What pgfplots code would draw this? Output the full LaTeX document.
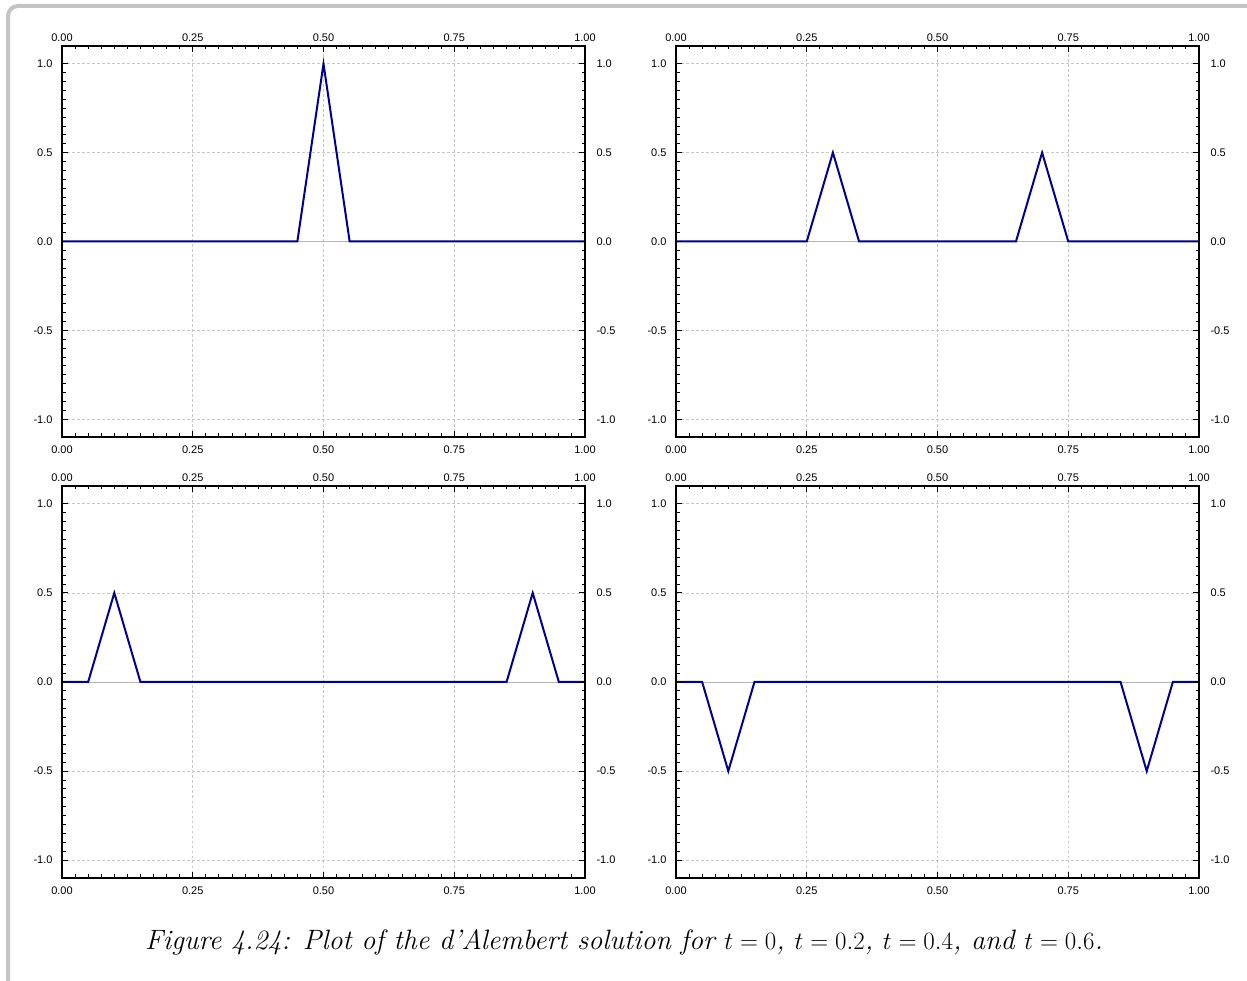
\documentclass[border=0pt]{standalone}
\usepackage{pgfplots}
\pgfplotsset{compat=1.18}
\usepackage{fontspec}
\newfontfamily\helv{Liberation Sans}
\definecolor{curve}{RGB}{0,0,140}
\definecolor{framegray}{RGB}{196,196,196}
\pgfplotsset{
  base/.style={
    scale only axis, width=523pt, height=391pt,
    xmin=0, xmax=1, ymin=-1.1, ymax=1.1,
    xtick={0,0.25,0.5,0.75,1}, ytick={-1,-0.5,0,0.5,1},
    minor x tick num=9, minor y tick num=9,
    tick align=inside,
    major tick length=6pt, minor tick length=3.5pt,
    every tick/.style={black, line width=0.9pt},
    axis line style={line width=2pt},
    /pgf/number format/assume math mode=true,
    ticklabel style={font=\helv\fontsize{11}{11}\selectfont},
    xticklabel={\pgfmathprintnumber[fixed,fixed zerofill,precision=2]{\tick}},
    yticklabel={\pgfmathprintnumber[fixed,fixed zerofill,precision=1]{\tick}},
    clip=false,
  },
  main/.style={base,
    grid=major,
    major grid style={dash pattern=on 2.5pt off 2.5pt, black!22, line width=0.7pt},
    xticklabel pos=left, yticklabel pos=left,
    xticklabel style={yshift=-5pt},
    yticklabel style={xshift=-6pt},
  },
  second/.style={base,
    xticklabel pos=right, yticklabel pos=right,
    xticklabel style={yshift=1pt},
    yticklabel style={xshift=8pt},
  },
}
\begin{document}
\begin{tikzpicture}
\useasboundingbox (0pt,0pt) rectangle (1247pt,980pt);
\draw[framegray, line width=4pt, rounded corners=10pt] (8pt,-20pt) -- (8pt,974pt) -- (1270pt,974pt);
% plot 1
\begin{axis}[main, at={(62pt,543pt)}, anchor=south west]
\addplot[black!30, line width=0.8pt] coordinates {(0,0) (1,0)};
\addplot[curve, line width=2pt] coordinates {(0,0) (0.45,0) (0.5,1) (0.55,0) (1,0)};
\end{axis}
\begin{axis}[second, at={(62pt,543pt)}, anchor=south west]
\end{axis}
% plot 2
\begin{axis}[main, at={(676pt,543pt)}, anchor=south west]
\addplot[black!30, line width=0.8pt] coordinates {(0,0) (1,0)};
\addplot[curve, line width=2pt] coordinates {(0,0) (0.25,0) (0.3,0.5) (0.35,0) (0.65,0) (0.7,0.5) (0.75,0) (1,0)};
\end{axis}
\begin{axis}[second, at={(676pt,543pt)}, anchor=south west]
\end{axis}
% plot 3
\begin{axis}[main, at={(62pt,102pt)}, anchor=south west, height=392pt]
\addplot[black!30, line width=0.8pt] coordinates {(0,0) (1,0)};
\addplot[curve, line width=2pt] coordinates {(0,0) (0.05,0) (0.1,0.5) (0.15,0) (0.85,0) (0.9,0.5) (0.95,0) (1,0)};
\end{axis}
\begin{axis}[second, at={(62pt,102pt)}, anchor=south west, height=392pt]
\end{axis}
% plot 4
\begin{axis}[main, at={(676pt,102pt)}, anchor=south west, height=392pt]
\addplot[black!30, line width=0.8pt] coordinates {(0,0) (1,0)};
\addplot[curve, line width=2pt] coordinates {(0,0) (0.05,0) (0.1,-0.5) (0.15,0) (0.85,0) (0.9,-0.5) (0.95,0) (1,0)};
\end{axis}
\begin{axis}[second, at={(676pt,102pt)}, anchor=south west, height=392pt]
\end{axis}
\node[anchor=base] at (624pt,31pt) {\fontsize{28}{30}\selectfont\itshape Figure 4.24: Plot of the d'Alembert solution for $t = 0$, $t = 0.2$, $t = 0.4$, and $t = 0.6$.};
\end{tikzpicture}
\end{document}
